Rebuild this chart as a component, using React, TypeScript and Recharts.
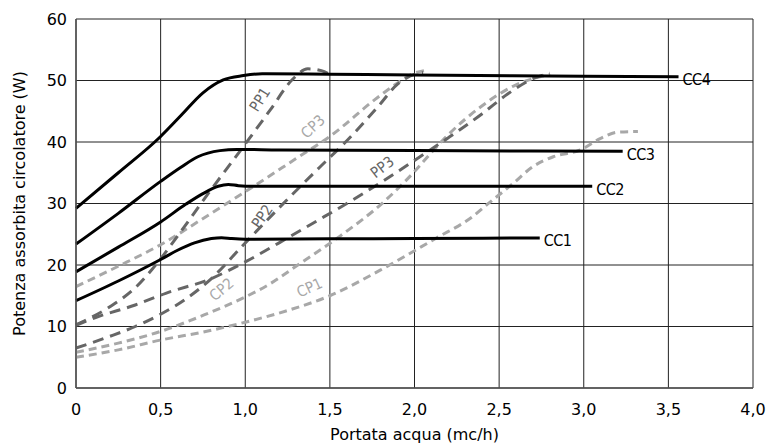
import React from 'react';
import { LineChart, Line, XAxis, YAxis, CartesianGrid, ReferenceDot } from 'recharts';

type P = [number, number];

const xTicks = [0, 0.5, 1, 1.5, 2, 2.5, 3, 3.5, 4];
const yTicks = [0, 10, 20, 30, 40, 50, 60];

// Curva costante (CC)
const CC1: P[] = [[0, 14.2], [0.25, 17.4], [0.5, 20.9], [0.6, 22.4], [0.7, 23.6], [0.8, 24.3], [0.86, 24.45], [0.92, 24.3], [1.0, 24.2], [1.5, 24.25], [2.0, 24.3], [2.74, 24.4]];
const CC2: P[] = [[0, 18.9], [0.25, 22.9], [0.5, 27.0], [0.65, 29.9], [0.75, 31.6], [0.84, 32.8], [0.9, 33.1], [0.96, 32.9], [1.05, 32.8], [2.0, 32.8], [3.05, 32.8]];
const CC3: P[] = [[0, 23.4], [0.25, 28.4], [0.5, 33.6], [0.62, 35.9], [0.72, 37.6], [0.85, 38.6], [0.95, 38.8], [1.2, 38.7], [2.0, 38.6], [3.23, 38.5]];
const CC4: P[] = [[0, 29.2], [0.25, 35.0], [0.5, 40.9], [0.62, 44.3], [0.75, 48.0], [0.87, 50.1], [0.99, 50.8], [1.1, 51.1], [1.5, 51.0], [2.0, 50.9], [3.0, 50.7], [3.56, 50.6]];

// Proporzionale (PP)
const PP1: P[] = [[0, 10.3], [0.2, 13.2], [0.35, 16.3], [0.45, 19.3], [0.6, 24.7], [0.77, 31.2], [0.99, 39.3], [1.15, 45.3], [1.28, 50.2], [1.37, 51.9], [1.45, 51.6], [1.5, 51.0]];
const PP2: P[] = [[0, 6.5], [0.2, 8.4], [0.35, 10.0], [0.5, 12.0], [0.65, 14.5], [0.8, 17.8], [0.99, 23.3], [1.2, 29.3], [1.44, 35.9], [1.6, 40.2], [1.78, 45.6], [1.9, 49.4], [2.0, 51.0], [2.05, 51.3]];
const PP3: P[] = [[0, 10.2], [0.12, 11.5], [0.35, 13.5], [0.53, 15.4], [0.8, 17.8], [1.0, 20.5], [1.2, 23.6], [1.4, 26.8], [1.6, 30.0], [1.8, 33.4], [2.0, 37.0], [2.2, 40.7], [2.4, 44.6], [2.55, 47.8], [2.7, 50.3], [2.8, 51.2]];

// Pressione costante (CP)
const CP1: P[] = [[0, 5.0], [0.25, 6.2], [0.5, 7.8], [0.75, 9.1], [1.0, 10.7], [1.25, 12.6], [1.5, 15.0], [1.8, 19.2], [2.13, 24.4], [2.33, 27.6], [2.45, 30.3], [2.58, 33.2], [2.7, 36.0], [2.82, 37.6], [2.98, 38.7], [3.1, 40.6], [3.2, 41.6], [3.32, 41.7]];
const CP2: P[] = [[0, 5.8], [0.25, 7.3], [0.5, 9.2], [0.75, 11.8], [1.0, 14.8], [1.15, 17.0], [1.3, 19.8], [1.56, 24.7], [1.82, 30.3], [2.0, 35.2], [2.1, 38.3], [2.2, 41.2], [2.4, 45.9], [2.6, 49.3], [2.8, 51.0]];
const CP3: P[] = [[0, 16.5], [0.25, 19.8], [0.5, 23.3], [0.77, 27.9], [1.05, 32.8], [1.3, 37.3], [1.5, 40.9], [1.78, 47.2], [1.9, 49.6], [2.0, 51.2], [2.06, 51.6]];

// Etichette curve dentro il grafico: [x, y, angolo]
const labelPP1: [number, number, number] = [1.087, 46.9, -58];
const labelPP2: [number, number, number] = [1.1, 27.9, -55];
const labelPP3: [number, number, number] = [1.81, 35.9, -38];
const labelCP1: [number, number, number] = [1.38, 16.3, -25];
const labelCP2: [number, number, number] = [0.86, 16.0, -40];
const labelCP3: [number, number, number] = [1.4, 42.5, -43];

const pts = (a: P[]) => a.map(([x, y]) => ({ x, y }));
const fmt = (v: number) => (v === 0 ? '0' : v.toFixed(1).replace('.', ','));

const FONT = '"DejaVu Sans", sans-serif';
const COND = '"DejaVu Sans Condensed", "DejaVu Sans", sans-serif';
const CC_COLOR = '#000';
const PP_COLOR = '#666';
const CP_COLOR = '#a8a8a8';

const rotText = (name: string, angle: number, color: string) => (props: any) => {
  const { cx, cy } = props;
  return (
    <text
      x={cx}
      y={cy}
      transform={`rotate(${angle}, ${cx}, ${cy})`}
      textAnchor="middle"
      dominantBaseline="central"
      fontSize={15}
      fontFamily={COND}
      fill={color}
    >
      {name}
    </text>
  );
};

const endText = (name: string) => (props: any) => {
  const { cx, cy } = props;
  return (
    <text x={cx + 4} y={cy + 3} dominantBaseline="central" fontSize={16} fontFamily={COND} fill="#000" letterSpacing={-0.5}>
      {name}
    </text>
  );
};

const series: { name: string; d: P[]; kind: 'CC' | 'PP' | 'CP' }[] = [
  { name: 'CP1', d: CP1, kind: 'CP' },
  { name: 'CP2', d: CP2, kind: 'CP' },
  { name: 'CP3', d: CP3, kind: 'CP' },
  { name: 'PP1', d: PP1, kind: 'PP' },
  { name: 'PP2', d: PP2, kind: 'PP' },
  { name: 'PP3', d: PP3, kind: 'PP' },
  { name: 'CC1', d: CC1, kind: 'CC' },
  { name: 'CC2', d: CC2, kind: 'CC' },
  { name: 'CC3', d: CC3, kind: 'CC' },
  { name: 'CC4', d: CC4, kind: 'CC' },
];

const inner: { name: string; l: [number, number, number]; color: string }[] = [
  { name: 'PP1', l: labelPP1, color: PP_COLOR },
  { name: 'PP2', l: labelPP2, color: PP_COLOR },
  { name: 'PP3', l: labelPP3, color: PP_COLOR },
  { name: 'CP1', l: labelCP1, color: CP_COLOR },
  { name: 'CP2', l: labelCP2, color: CP_COLOR },
  { name: 'CP3', l: labelCP3, color: CP_COLOR },
];

export default function App() {
  return (
    <div style={{ position: 'absolute', left: 0, top: 0, width: 768, height: 445, background: '#fff' }}>
      <LineChart width={768} height={445} margin={{ top: 19, right: 15, bottom: 0, left: 0 }}>
        <CartesianGrid stroke="#222" strokeWidth={1} />
        <XAxis
          dataKey="x"
          type="number"
          domain={[0, 4]}
          ticks={xTicks}
          tickFormatter={fmt}
          allowDuplicatedCategory={false}
          height={57}
          tickLine={false}
          tickMargin={10}
          stroke="#555"
          strokeWidth={1.5}
          tick={{ fill: '#000', fontSize: 16, fontFamily: FONT }}
          label={{ value: 'Portata acqua (mc/h)', position: 'insideBottom', offset: 5, style: { fill: '#000', fontSize: 16, fontFamily: FONT } }}
        />
        <YAxis
          type="number"
          domain={[0, 60]}
          ticks={yTicks}
          width={76}
          tickLine={false}
          tickMargin={3}
          stroke="#555"
          strokeWidth={1.5}
          tick={{ fill: '#000', fontSize: 16, fontFamily: FONT }}
          label={{ value: 'Potenza assorbita circolatore (W)', angle: -90, position: 'insideLeft', offset: 19, style: { textAnchor: 'middle', fill: '#000', fontSize: 16, fontFamily: FONT } }}
        />
        {series.map((s) => (
          <Line
            key={s.name}
            data={pts(s.d)}
            dataKey="y"
            type="monotone"
            stroke={s.kind === 'CC' ? CC_COLOR : s.kind === 'PP' ? PP_COLOR : CP_COLOR}
            strokeWidth={3}
            strokeDasharray={s.kind === 'CC' ? undefined : s.kind === 'PP' ? '11 7' : '8 5'}
            dot={false}
            activeDot={false}
            isAnimationActive={false}
          />
        ))}
        {inner.map((t) => (
          <ReferenceDot key={t.name} x={t.l[0]} y={t.l[1]} r={0} shape={rotText(t.name, t.l[2], t.color)} />
        ))}
        {series
          .filter((s) => s.kind === 'CC')
          .map((s) => {
            const last = s.d[s.d.length - 1];
            return <ReferenceDot key={'e' + s.name} x={last[0]} y={last[1]} r={0} shape={endText(s.name)} />;
          })}
      </LineChart>
    </div>
  );
}
